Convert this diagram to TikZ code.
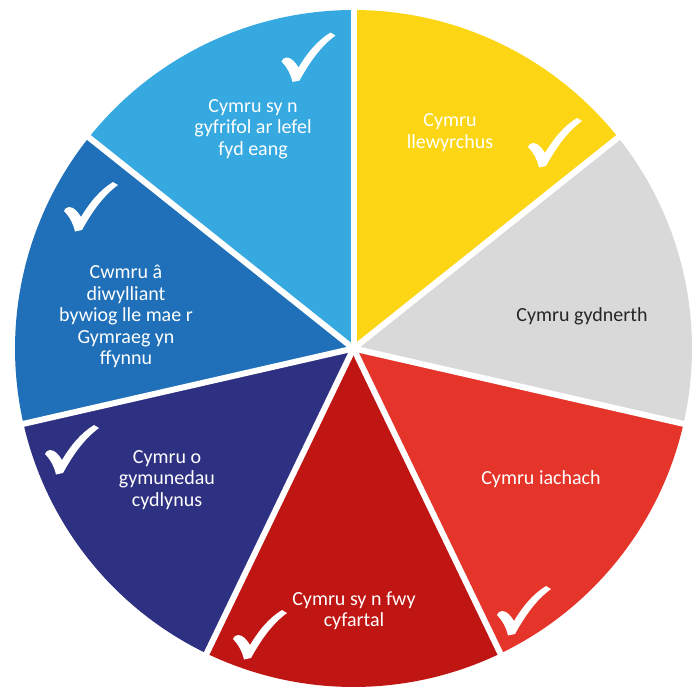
\documentclass[tikz,border=0pt]{standalone}
\usepackage{fontspec}
\setmainfont{Carlito}

\definecolor{cyYellow}{HTML}{FCD615}
\definecolor{cyGray}{HTML}{D9D9D9}
\definecolor{cyRed}{HTML}{E5352B}
\definecolor{cyDarkRed}{HTML}{BF1513}
\definecolor{cyNavy}{HTML}{2E3082}
\definecolor{cyBlue}{HTML}{1F70B8}
\definecolor{cyLightBlue}{HTML}{36A9E1}
\definecolor{cyText}{HTML}{262626}

\begin{document}
\begin{tikzpicture}[x=1pt,y=-1pt,
    gap/.style={white,line width=6pt},
    goal/.style={align=center,inner sep=0pt,text=white,
      font=\fontsize{20}{21.5}\selectfont},
    tick/.pic={
      \fill[white] (-16,24.5) -- (-9,23)
        .. controls (1,5) and (12,-11) .. (27,-22)
        -- (22,-25) .. controls (9,-17) and (-1,-5) .. (-10,10)
        .. controls (-13,5) and (-17,0) .. (-22,0)
        .. controls (-25,0) and (-26,2) .. (-27,4)
        .. controls (-22,9) and (-18,16) .. (-16,24.5) -- cycle;
    }]
  \useasboundingbox (0,0) rectangle (697,691);
  \coordinate (c) at (353.5,348.5);

  % slices, clockwise from the top
  \foreach \col [count=\i from 0] in
      {cyYellow,cyGray,cyRed,cyDarkRed,cyNavy,cyBlue,cyLightBlue}
    \fill[\col] (c) -- ++({-90+\i*360/7}:338.5)
      arc[start angle={-90+\i*360/7},delta angle={360/7},radius=338.5]
      -- cycle;
  \foreach \i in {0,...,6}
    \draw[gap] (c) -- ++({-90+\i*360/7}:345);

  \node[goal] (llewyrchus) at (450,132.5) {Cymru\\llewyrchus};
  \node[goal,text=cyText] (gydnerth) at (582,316) {Cymru gydnerth};
  \node[goal] (iachach) at (541,479) {Cymru iachach};
  \node[goal] (cyfartal) at (354,610.5) {Cymru sy n fwy\\cyfartal};
  \node[goal] (cydlynus) at (167,480) {Cymru o\\gymunedau\\cydlynus};
  \node[goal] (diwylliant) at (126,316.5)
    {Cwmru â\\diwylliant\\bywiog lle mae r\\Gymraeg yn\\ffynnu};
  \node[goal] (byd) at (253,129) {Cymru sy n\\gyfrifol ar lefel\\fyd eang};

  \pic at (555,143) {tick};
  \pic at (524,611) {tick};
  \pic at (260,635) {tick};
  \pic at (72,450) {tick};
  \pic at (91,207) {tick};
  \pic at (308.5,57.5) {tick};
\end{tikzpicture}
\end{document}
